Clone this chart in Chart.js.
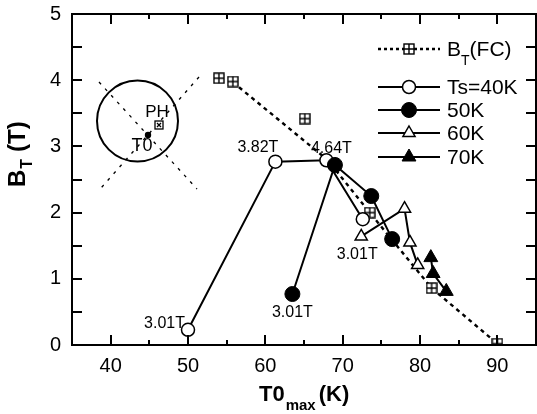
<!DOCTYPE html>
<html>
<head>
<meta charset="utf-8">
<script src="https://cdn.jsdelivr.net/npm/chart.js@4/dist/chart.umd.min.js"></script>
<style>
  html, body { margin: 0; padding: 0; background: #fff; overflow: hidden; }
  #wrap { position: relative; width: 537px; height: 414px; }
  canvas { display: block; }
  #frame { position: absolute; left: 0; top: 0; width: 537px; height: 414px; pointer-events: none; }
  #frame div { position: absolute; background: #000; }
</style>
</head>
<body>
<div id="wrap">
  <canvas id="chart" width="537" height="414"></canvas>
  <div id="frame"></div>
</div>
<script>
// Axis ticks
const xTicks = [40, 50, 60, 70, 80, 90];
const xMinorTicks = [45, 55, 65, 75, 85];
const yTicks = [0, 1, 2, 3, 4, 5];
const yAllTicks = [0, 0.5, 1, 1.5, 2, 2.5, 3, 3.5, 4, 4.5, 5];

// Field-cooled threshold field B_T(FC) vs T0max
const fcT = [54.0, 55.8, 65.1, 73.5, 81.5, 90.0];
const fcB = [4.03, 3.98, 3.42, 2.00, 0.86, 0.02];
// Dashed trend line through the FC data
const fcTrendT = [55.8, 68.0, 73.5, 81.5, 90.0];
const fcTrendB = [3.97, 2.80, 2.00, 0.86, 0.02];

// Zero-field-cooled runs at different start temperatures Ts
const ts40T = [50.0, 61.3, 67.9, 72.6];
const ts40B = [0.23, 2.77, 2.79, 1.90];
const ts40Field = ['3.01T', '3.82T', '4.64T', ''];

const ts50T = [63.5, 69.0, 73.7, 76.4];
const ts50B = [0.77, 2.72, 2.25, 1.60];
const ts50Field = ['3.01T', '', '', ''];

const ts60T = [72.4, 78.0, 78.7, 79.7];
const ts60B = [1.64, 2.06, 1.55, 1.21];
const ts60Field = ['3.01T', '', '', ''];

const ts70T = [81.4, 81.7, 83.4];
const ts70B = [1.32, 1.08, 0.81];

const legendLabels = ['Ts=40K', '50K', '60K', '70K'];

const FONT = '"Liberation Sans", Arial, Helvetica, sans-serif';
const toXY = (xs, ys) => xs.map((x, i) => ({ x, y: ys[i] }));

// Open square with a cross inside, used for the FC points
function squarePlus(size) {
  const c = document.createElement('canvas');
  c.width = size; c.height = size;
  const g = c.getContext('2d');
  g.fillStyle = '#fff';
  g.fillRect(1, 1, size - 2, size - 2);
  g.strokeStyle = '#000';
  g.lineWidth = 1.4;
  g.strokeRect(1, 1, size - 2, size - 2);
  g.beginPath();
  g.moveTo(size / 2, 1); g.lineTo(size / 2, size - 1);
  g.moveTo(1, size / 2); g.lineTo(size - 1, size / 2);
  g.stroke();
  return c;
}
const sqMark = squarePlus(12);

const datasets = [
  { // FC trend line (dashed)
    data: toXY(fcTrendT, fcTrendB), showLine: true, borderColor: '#000',
    borderWidth: 2.4, borderDash: [4, 4], pointRadius: 0, order: 6
  },
  { // FC points
    data: toXY(fcT, fcB), showLine: false, pointStyle: sqMark,
    pointRadius: 6, order: 5
  },
  {
    data: toXY(ts40T, ts40B), showLine: true, borderColor: '#000', borderWidth: 2,
    pointStyle: 'circle', pointRadius: 6.5, pointBackgroundColor: '#fff',
    pointBorderColor: '#000', pointBorderWidth: 1.5, order: 4, fieldLabels: ts40Field
  },
  {
    data: toXY(ts60T, ts60B), showLine: true, borderColor: '#000', borderWidth: 2,
    pointStyle: 'triangle', pointRadius: 7, pointBackgroundColor: '#fff',
    pointBorderColor: '#000', pointBorderWidth: 1.5, order: 3, fieldLabels: ts60Field
  },
  {
    data: toXY(ts50T, ts50B), showLine: true, borderColor: '#000', borderWidth: 2,
    pointStyle: 'circle', pointRadius: 7.5, pointBackgroundColor: '#000',
    pointBorderColor: '#000', pointBorderWidth: 1, order: 2, fieldLabels: ts50Field
  },
  {
    data: toXY(ts70T, ts70B), showLine: true, borderColor: '#000', borderWidth: 2,
    pointStyle: 'triangle', pointRadius: 8, pointBackgroundColor: '#000',
    pointBorderColor: '#000', pointBorderWidth: 1, order: 1
  }
];

// Axis titles, inset sketch, legend and field labels
function drawDecorations(chart) {
  const ctx = chart.ctx;
  ctx.save();
  ctx.setLineDash([]);
  ctx.strokeStyle = '#000';
  ctx.fillStyle = '#000';

  // x title: T0_max (K)
  ctx.textBaseline = 'alphabetic';
  ctx.textAlign = 'left';
  let tx = 259;
  ctx.font = 'bold 22px ' + FONT;
  ctx.fillText('T0', tx, 401);
  tx += ctx.measureText('T0').width + 1;
  ctx.font = 'bold 15px ' + FONT;
  ctx.fillText('max', tx, 410);
  tx += ctx.measureText('max').width + 3;
  ctx.font = 'bold 22px ' + FONT;
  ctx.fillText('(K)', tx, 401);

  // y title: B_T (T), rotated
  ctx.save();
  ctx.translate(25, 187);
  ctx.rotate(-Math.PI / 2);
  let ty = 0;
  ctx.font = 'bold 24px ' + FONT;
  ctx.fillText('B', ty, 0);
  ty += ctx.measureText('B').width + 1;
  ctx.font = 'bold 16px ' + FONT;
  ctx.fillText('T', ty, 7);
  ty += ctx.measureText('T').width + 7;
  ctx.font = 'bold 24px ' + FONT;
  ctx.fillText('(T)', ty, 0);
  ctx.restore();

  // inset sketch: sample with point T0 and position PH
  ctx.lineWidth = 2;
  ctx.beginPath();
  ctx.arc(137.5, 121, 40.5, 0, Math.PI * 2);
  ctx.stroke();
  ctx.lineWidth = 1.3;
  ctx.setLineDash([3, 6]);
  ctx.beginPath();
  ctx.moveTo(99, 82); ctx.lineTo(197, 189);
  ctx.moveTo(199, 77); ctx.lineTo(101, 188);
  ctx.stroke();
  ctx.setLineDash([]);
  ctx.beginPath();
  ctx.arc(148, 135, 3.2, 0, Math.PI * 2);
  ctx.fill();
  ctx.fillStyle = '#fff';
  ctx.fillRect(155, 121, 8, 8);
  ctx.fillStyle = '#000';
  ctx.lineWidth = 1.3;
  ctx.strokeRect(155, 121, 8, 8);
  ctx.beginPath();
  ctx.moveTo(157, 127); ctx.lineTo(161, 123);
  ctx.moveTo(157, 123); ctx.lineTo(161, 127);
  ctx.stroke();
  ctx.textAlign = 'center';
  ctx.textBaseline = 'middle';
  ctx.font = '17px ' + FONT;
  ctx.fillText('PH', 157, 112);
  ctx.font = '18px ' + FONT;
  ctx.fillText('T0', 142, 146);

  // field labels next to the points
  ctx.font = '16px ' + FONT;
  const offs = {
    '2:0': [-3, -6, 'right'],
    '2:1': [3, -14, 'right'],
    '2:2': [5, -12, 'center'],
    '4:0': [0, 19, 'center'],
    '3:0': [-4, 18, 'center']
  };
  chart.data.datasets.forEach((ds, di) => {
    if (!ds.fieldLabels) return;
    const meta = chart.getDatasetMeta(di);
    ds.fieldLabels.forEach((lab, pi) => {
      if (!lab) return;
      const o = offs[di + ':' + pi] || [0, -14, 'center'];
      const el = meta.data[pi];
      ctx.textAlign = o[2];
      ctx.fillText(lab, el.x + o[0], el.y + o[1]);
    });
  });

  // legend
  const lx0 = 378, lx1 = 440, mx = 409, textX = 447;
  const rows = [49, 87, 110, 133, 157];
  ctx.textAlign = 'left';
  ctx.textBaseline = 'middle';
  ctx.lineWidth = 2.4;
  ctx.setLineDash([3, 3]);
  ctx.beginPath();
  ctx.moveTo(lx0, rows[0]); ctx.lineTo(lx1, rows[0]);
  ctx.stroke();
  ctx.setLineDash([]);
  ctx.drawImage(sqMark, mx - 6, rows[0] - 6);
  ctx.font = '21px ' + FONT;
  ctx.fillText('B', textX, rows[0] + 1);
  let lw = textX + ctx.measureText('B').width;
  ctx.font = '14px ' + FONT;
  ctx.fillText('T', lw, rows[0] + 12);
  lw += ctx.measureText('T').width;
  ctx.font = '21px ' + FONT;
  ctx.fillText('(FC)', lw, rows[0] + 1);
  const legendSets = [2, 4, 3, 5];
  legendSets.forEach((di, i) => {
    const ds = chart.data.datasets[di];
    const ry = rows[i + 1];
    ctx.lineWidth = 2;
    ctx.strokeStyle = '#000';
    ctx.beginPath();
    ctx.moveTo(lx0, ry); ctx.lineTo(lx1, ry);
    ctx.stroke();
    ctx.fillStyle = ds.pointBackgroundColor;
    ctx.lineWidth = ds.pointBorderWidth;
    ctx.beginPath();
    const r = ds.pointRadius;
    if (ds.pointStyle === 'circle') {
      ctx.arc(mx, ry, r, 0, Math.PI * 2);
    } else {
      ctx.moveTo(mx, ry - r);
      ctx.lineTo(mx + r * 0.866, ry + r * 0.5);
      ctx.lineTo(mx - r * 0.866, ry + r * 0.5);
      ctx.closePath();
    }
    ctx.fill();
    ctx.stroke();
    ctx.fillStyle = '#000';
    ctx.font = '21px ' + FONT;
    ctx.fillText(legendLabels[i], textX, ry + 1);
  });
  ctx.restore();
}

const overlay = {
  id: 'overlay',
  afterDraw(chart) { drawDecorations(chart); }
};

const noPad = s => { s.paddingLeft = 0; s.paddingRight = 0; s.paddingTop = 0; s.paddingBottom = 0; };

const chart = new Chart(document.getElementById('chart'), {
  type: 'scatter',
  data: { datasets },
  options: {
    responsive: false,
    animation: false,
    events: [],
    layout: { autoPadding: false, padding: { top: 14, right: 1, left: 0, bottom: 0 } },
    plugins: { legend: { display: false }, tooltip: { enabled: false } },
    scales: {
      x: {
        type: 'linear', min: 35, max: 95,
        afterBuildTicks: s => { s.ticks = xTicks.map(v => ({ value: v })); },
        afterFit: s => { s.height = 69; noPad(s); },
        grid: { display: false, drawTicks: false },
        border: { display: false },
        ticks: { color: '#000', padding: 9, font: { family: FONT, size: 20 }, maxRotation: 0 }
      },
      y: {
        type: 'linear', min: 0, max: 5,
        afterBuildTicks: s => { s.ticks = yTicks.map(v => ({ value: v })); },
        afterFit: s => { s.width = 72; noPad(s); },
        grid: { display: false, drawTicks: false },
        border: { display: false },
        ticks: { color: '#000', padding: 11, font: { family: FONT, size: 20 } }
      }
    }
  },
  plugins: [overlay]
});

// Box frame and inward ticks as a layer above the canvas, placed from the chart's scales
(function buildFrame() {
  const host = document.getElementById('frame');
  const a = chart.chartArea;
  const xs = chart.scales.x, ys = chart.scales.y;
  const bar = (l, t, w, h) => {
    const d = document.createElement('div');
    d.style.left = l + 'px'; d.style.top = t + 'px';
    d.style.width = w + 'px'; d.style.height = h + 'px';
    host.appendChild(d);
  };
  const L = Math.round(a.left), R = Math.round(a.right);
  const T = Math.round(a.top), B = Math.round(a.bottom);
  bar(L - 1, T - 1, R - L + 2, 2);          // top edge
  bar(L - 1, B - 1, R - L + 2, 2);          // bottom edge
  bar(L - 1, T - 1, 2, B - T + 2);          // left edge
  bar(R - 1, T - 1, 2, B - T + 2);          // right edge
  xTicks.concat(xMinorTicks).forEach(v => {
    const px = Math.round(xs.getPixelForValue(v));
    const len = xTicks.includes(v) ? 10 : 5;
    bar(px - 1, B - len, 2, len);
    bar(px - 1, T, 2, len);
  });
  yAllTicks.slice(1, -1).forEach(v => {
    const py = Math.round(ys.getPixelForValue(v));
    bar(L, py - 1, 10, 2);
    bar(R - 10, py - 1, 10, 2);
  });
})();
</script>
</body>
</html>
